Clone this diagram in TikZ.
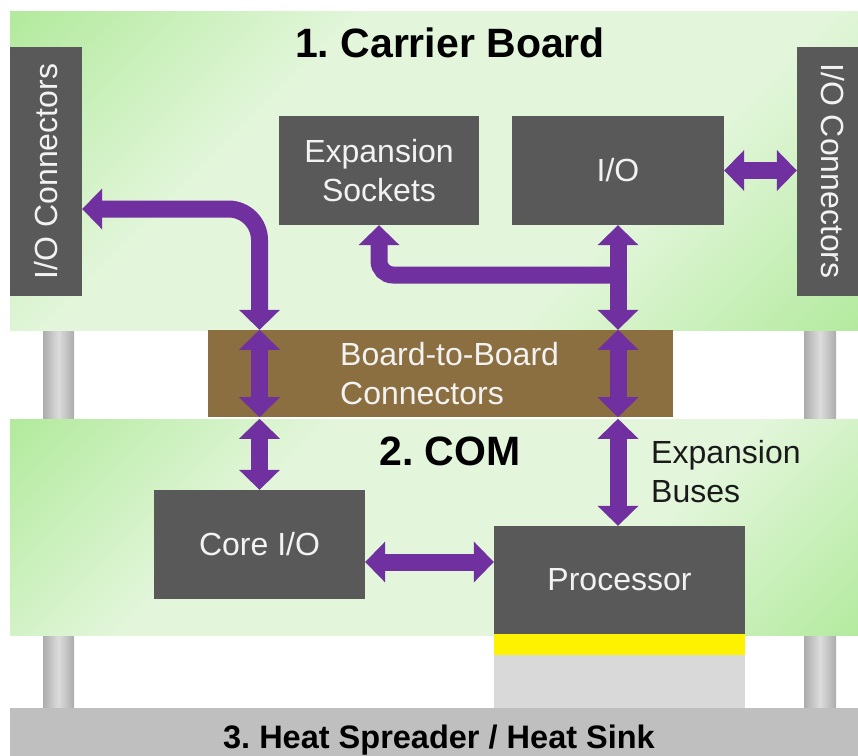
\documentclass[tikz,border=0pt]{standalone}
\usepackage{fontspec}
\setmainfont{Liberation Sans}
\usetikzlibrary{arrows.meta}
\frenchspacing
\definecolor{bgG}{HTML}{B3EA9E}
\definecolor{bgP}{HTML}{E3F6DB}
\definecolor{boxgray}{HTML}{595959}
\definecolor{boxtext}{HTML}{F2F2F2}
\definecolor{buspurple}{HTML}{7030A0}
\definecolor{b2bbrown}{HTML}{8B6F40}
\definecolor{heatgray}{HTML}{BFBFBF}
\definecolor{lgray}{HTML}{D9D9D9}
\definecolor{pilD}{HTML}{ACACAC}
\definecolor{pilL}{HTML}{DCDCDC}
\definecolor{labeltext}{HTML}{1A1A1A}
\pgfdeclareverticalshading{boardshade}{100bp}{color(0bp)=(bgG); color(15bp)=(bgG); color(36bp)=(bgP); color(64bp)=(bgP); color(85bp)=(bgG); color(100bp)=(bgG)}
\begin{document}
\frenchspacing
\begin{tikzpicture}[x=1pt,y=-1pt,
  darkbox/.style={fill=boxgray, draw=none, inner sep=0pt, text=boxtext,
    font=\fontsize{32}{39}\selectfont, align=center},
  board/.style={shade, shading=boardshade, shading angle=45, draw=none, inner sep=0pt},
  plainfill/.style={draw=none, inner sep=0pt},
  pillar/.style={left color=pilD, right color=pilD, middle color=pilL},
  title/.style={font=\bfseries\fontsize{41}{48}\selectfont, text=black, inner sep=0pt},
  lbl/.style={font=\fontsize{32}{39}\selectfont, align=left, inner sep=0pt},
  bus/.style={draw=buspurple, line width=17pt,
    >={Triangle[width=41pt,length=20pt,line width=0pt]}}
]
\useasboundingbox (0,0) rectangle (858,755);
\clip (0,0) rectangle (858,755);
% pillars
\shade[pillar] (43,296) rectangle (74,708);
\shade[pillar] (804,296) rectangle (836,708);
% boards
\node[board, minimum width=860pt, minimum height=319pt] (cb) at (440,170.5) {};
\node[board, minimum width=860pt, minimum height=216pt] (com) at (440,527) {};
\node[plainfill, fill=b2bbrown, minimum width=465pt, minimum height=87pt] (b2b) at (440.5,373.5) {};
\node[plainfill, fill=heatgray, minimum width=860pt, minimum height=50pt] (heat) at (440,733) {};
\node[plainfill, fill=yellow, minimum width=251pt, minimum height=21pt] (tim) at (619.5,644.5) {};
\node[plainfill, fill=lgray, minimum width=251pt, minimum height=53pt] (spacer) at (619.5,681.5) {};
% boxes
\node[darkbox, rotate=90, minimum width=249pt, minimum height=72pt] (lconn) at (46,171.5) {I/O Connectors};
\node[darkbox, rotate=-90, minimum width=249pt, minimum height=72pt] (rconn) at (833,171) {I/O Connectors};
\node[darkbox, minimum width=200pt, minimum height=109pt] (exp) at (379,170.5) {Expansion\\Sockets};
\node[darkbox, minimum width=212pt, minimum height=109pt] (io) at (618,170.5) {I/O};
\node[darkbox, minimum width=211pt, minimum height=109pt] (core) at (259.5,544.5) {Core I/O};
\node[darkbox, minimum width=251pt, minimum height=108pt] (proc) at (619.5,580) {Processor};
% titles and labels
\node[title, anchor=base] (cbt) at (450,57) {1. Carrier Board};
\node[title, anchor=base] (comt) at (450,465) {2. COM};
\node[font=\bfseries\fontsize{32.5}{39}\selectfont, inner sep=0pt, anchor=base] (heatt) at (439,748.5) {3. Heat Spreader / Heat Sink};
\node[lbl, text=boxtext, anchor=west] (b2bt) at (340,374) {Board-to-Board\\Connectors};
\node[lbl, text=labeltext, anchor=west] (expbus) at (651,472) {Expansion\\Buses};
% buses
\draw[bus,<->] (io.south) -- (io.south |- b2b.north);
\draw[bus,<->] (io.south |- b2b.north) -- (io.south |- b2b.south);
\draw[bus,<->] (io.south |- com.north) -- (io.south |- proc.north);
\draw[bus,<->,rounded corners=31pt] (lconn.south |- 0,209) -- (core.north |- 0,209) -- (core.north |- b2b.north);
\draw[bus,<->] (core.north |- b2b.north) -- (core.north |- b2b.south);
\draw[bus,<->] (core.north |- com.north) -- (core.north);
\draw[bus,<->] (core.east |- 0,562) -- (proc.west |- 0,562);
\draw[bus,<->] (io.east) -- (io.east -| rconn.south);
\draw[bus,->,rounded corners=14pt] (io.south |- 0,275) -- (exp.south |- 0,275) -- (exp.south);
\end{tikzpicture}
\end{document}
